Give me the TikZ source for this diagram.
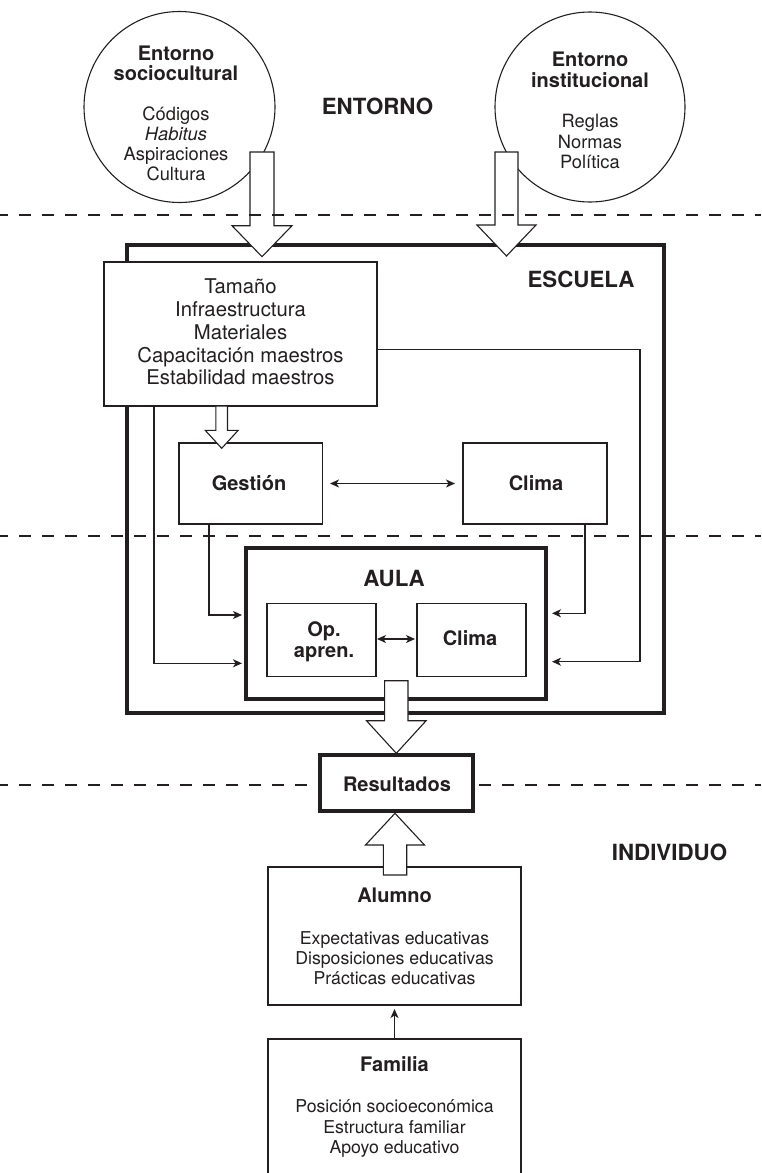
\documentclass[tikz,border=0pt]{standalone}
\usepackage{fontspec}
\setmainfont{TeX Gyre Heros}
\usetikzlibrary{arrows.meta,calc}
\definecolor{ink}{RGB}{35,31,32}
\tikzset{
  boxn/.style={draw=ink, line width=1.2pt, fill=white, rectangle, inner sep=0pt, outer sep=0pt},
  thickbox/.style={draw=ink, line width=4pt, rectangle, inner sep=0pt, outer sep=0pt},
  circn/.style={draw=ink, line width=1.1pt, circle, inner sep=0pt, outer sep=0pt},
  conn/.style={draw=ink, line width=1.2pt, -{Stealth[length=9pt,width=8pt,inset=2.5pt]}},
  dconn/.style={draw=ink, line width=1.2pt, {Stealth[length=9pt,width=8pt,inset=2.5pt]}-{Stealth[length=9pt,width=8pt,inset=2.5pt]}},
  hollow/.style={draw=ink, line width=1.1pt, fill=white, line join=miter},
  sepline/.style={draw=ink, line width=1.1pt, dash pattern=on 12pt off 11pt, dash phase=4pt},
  txtbase/.style={inner sep=0pt, outer sep=0pt, anchor=base, text=ink},
  bodytxt/.style={txtbase, font=\fontsize{20.3}{24}\selectfont},
  ctxt/.style={txtbase, font=\fontsize{18.3}{22}\selectfont},
  smalltxt/.style={txtbase, font=\fontsize{17.7}{21}\selectfont},
  ttl/.style={txtbase, font=\bfseries\fontsize{20}{24}\selectfont},
  sect/.style={txtbase, font=\bfseries\fontsize{22.3}{26}\selectfont},
}
\newcommand\hollowarr[5]{%
  \coordinate (fab) at ($(#2)!#5!(#1)$);
  \draw[hollow] ($(#1)!#3!90:(#2)$) -- ($(fab)!#3!90:(#2)$) -- ($(fab)!#4!90:(#2)$) -- (#2)
    -- ($(fab)!#4!-90:(#2)$) -- ($(fab)!#3!-90:(#2)$) -- ($(#1)!#3!-90:(#2)$) -- cycle;
}
\begin{document}
\begin{tikzpicture}[x=1pt,y=-1pt]
\path[use as bounding box] (0,0) rectangle (761,1173);
\clip (0,0) rectangle (761,1173);

% big frames
\node[thickbox, minimum width=537pt, minimum height=468.5pt] (esc) at (395.5,478.75) {};
\node[circn, minimum size=191pt] (circ1) at (179.5,107) {};
\node[circn, minimum size=190pt] (circ2) at (590,107) {};

% boxes
\node[boxn, minimum width=273pt, minimum height=144pt] (tam) at (240.5,334) {};
\node[boxn, minimum width=143.5pt, minimum height=81pt] (gest) at (250.75,483.5) {};
\node[boxn, minimum width=144pt, minimum height=81pt] (clima) at (535,483.5) {};
\node[thickbox, fill=white, minimum width=300pt, minimum height=151pt] (aula) at (396,623.5) {};
\node[boxn, minimum width=109pt, minimum height=73pt] (op) at (321.5,640) {};
\node[boxn, minimum width=109pt, minimum height=73pt] (clima2) at (471.5,640) {};
\node[boxn, minimum width=253pt, minimum height=138pt] (alu) at (394.5,936) {};
\node[boxn, minimum width=253pt, minimum height=146pt] (fam) at (394.5,1112) {};

% thin connectors
\draw[conn] ([xshift=-86.5pt]tam.south) |- ([xshift=-4pt,yshift=-39.8pt]aula.west);
\draw[conn] ([xshift=-41.75pt]gest.south) |- ([xshift=-4pt,yshift=8.5pt]aula.west);
\draw[conn] ([xshift=50pt]clima.south) |- ([xshift=6pt,yshift=10.2pt]aula.east);
\draw[conn] ([yshift=-15.5pt]tam.east) -- ++(263,0) |- ([xshift=6pt,yshift=-38.2pt]aula.east);
\draw[dconn] ([xshift=7.5pt]gest.east) -- ([xshift=-8pt]clima.west);
\draw[dconn] ([xshift=1pt,yshift=1pt]op.east) -- ([xshift=-2pt,yshift=1pt]clima2.west);
\draw[conn] (fam.north) -- ([yshift=-4pt]alu.south);

% hollow arrows
\coordinate (h1s) at (262,152);
\coordinate (h1e) at (262,256.7);
\coordinate (h2s) at (506.5,152);
\coordinate (h2e) at (506.5,256);
\coordinate (h3s) at (221.7,406);
\coordinate (h3e) at (221.7,448.3);
\coordinate (h4s) at (396.3,680.7);
\coordinate (h4e) at (396.3,753.3);
\coordinate (h5s) at (395,875);
\coordinate (h5e) at (395,813.3);
\hollowarr{h1s}{h1e}{12pt}{30pt}{31pt}
\hollowarr{h2s}{h2e}{11.5pt}{29.5pt}{31pt}
\hollowarr{h3s}{h3e}{5.8pt}{16.5pt}{18pt}
\hollowarr{h4s}{h4e}{11.7pt}{29.8pt}{32.6pt}
\hollowarr{h5s}{h5e}{11.7pt}{29.5pt}{31.7pt}

% separators
\draw[sepline] (0,215) -- (761,215);
\draw[sepline] (0,536) -- (761,536);
\draw[sepline] (0,785) -- (761,785);

% resultados
\node[thickbox, fill=white, minimum width=153pt, minimum height=56pt] (res) at (396.5,783) {};

% section labels
\node[sect] (lent) at (377.5,114.5) {ENTORNO};
\node[sect] (lesc) at (581,287) {ESCUELA};
\node[sect] (lind) at (669.5,860) {INDIVIDUO};
\node[sect] (laul) at (394,586) {AULA};

% circle texts
\node[ttl] (c1a) at (176,60) {Entorno};
\node[ttl] (c1b) at (176,80) {sociocultural};
\node[ctxt] (c1c) at (176,120) {Códigos};
\node[ctxt] (c1d) at (176,140) {\textit{Habitus}};
\node[ctxt] (c1e) at (176,160) {Aspiraciones};
\node[ctxt] (c1f) at (176,180) {Cultura};
\node[ttl] (c2a) at (590,66.5) {Entorno};
\node[ttl] (c2b) at (590,87) {institucional};
\node[ctxt] (c2c) at (590,127) {Reglas};
\node[ctxt] (c2d) at (590,148) {Normas};
\node[ctxt] (c2e) at (590,168.5) {Política};

% tamaño texts
\node[bodytxt] (t1) at (240.5,293) {Tamaño};
\node[bodytxt] (t2) at (240.5,316) {Infraestructura};
\node[bodytxt] (t3) at (240.5,339) {Materiales};
\node[bodytxt] (t4) at (240.5,362) {Capacitación maestros};
\node[bodytxt] (t5) at (240.5,384.5) {Estabilidad maestros};

% box labels
\node[ttl] (tg) at (249,490) {Gestión};
\node[ttl] (tc) at (536,490) {Clima};
\node[ttl] (to1) at (324,636) {Op.};
\node[ttl] (to2) at (324,657) {apren.};
\node[ttl] (tc2) at (470,645) {Clima};
\node[ttl] (tr) at (397,791) {Resultados};

% alumno
\node[ttl] (ta) at (394.5,902.7) {Alumno};
\node[smalltxt] (ta1) at (394.5,944) {Expectativas educativas};
\node[smalltxt] (ta2) at (394.5,964.5) {Disposiciones educativas};
\node[smalltxt] (ta3) at (394.5,984.5) {Prácticas educativas};

% familia
\node[ttl] (tf) at (394.5,1071.7) {Familia};
\node[smalltxt] (tf1) at (394.5,1112) {Posición socioeconómica};
\node[smalltxt] (tf2) at (394.5,1133) {Estructura familiar};
\node[smalltxt] (tf3) at (394.5,1153) {Apoyo educativo};
\end{tikzpicture}
\end{document}
